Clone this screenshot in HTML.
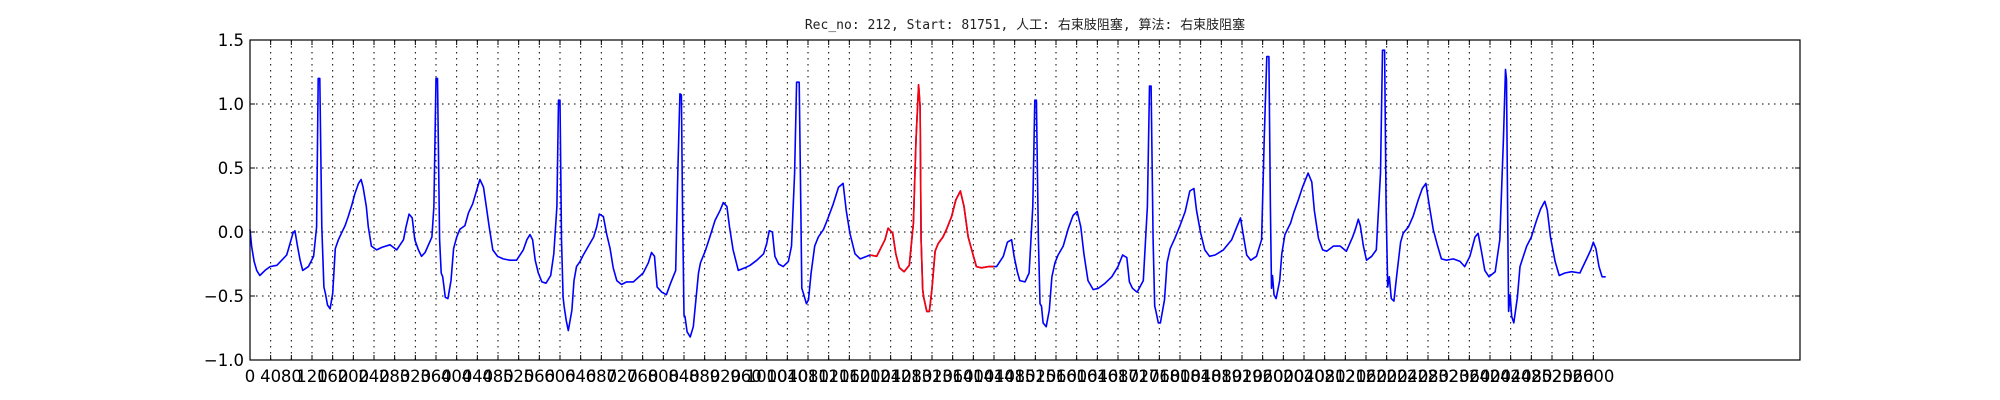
<!DOCTYPE html>
<html><head><meta charset="utf-8"><style>
html,body{margin:0;padding:0;background:#fff;}
svg{display:block;}
</style></head><body>
<svg id="chart" width="2000" height="400" xmlns="http://www.w3.org/2000/svg">
<rect width="2000" height="400" fill="#fff"/>
<text x="1025" y="29" text-anchor="middle" font-family="'DejaVu Sans Mono','Liberation Mono','Noto Sans CJK SC',monospace" font-size="13" fill="#222">Rec_no: 212, Start: 81751, 人工: 右束肢阻塞, 算法: 右束肢阻塞</text>
<g id="grid"></g><g id="series"></g><g id="ticks"></g>
<rect x="250" y="40" width="1550" height="320" fill="none" stroke="#000" stroke-width="1.2"/>
</svg>
<script>
const samples=[0,3,8,13,19,29,39,52,71,76,83,87,92,97,102,113,123,129,132,135,139,143,146,150,155,160,165,171,177,184,190,197,203,210,215,219,225,229,235,245,255,271,284,297,302,308,314,319,326,332,339,352,356,360,363,367,370,373,378,383,389,394,400,406,416,423,431,439,445,452,457,463,470,479,490,503,516,529,536,542,547,552,558,565,573,582,588,594,597,600,603,606,608,612,616,623,627,632,639,645,655,665,671,676,684,690,697,703,710,719,729,742,761,771,777,783,788,797,806,814,824,828,832,835,837,840,842,846,852,858,863,868,872,881,890,900,910,916,923,928,935,945,958,968,981,994,1000,1005,1011,1016,1023,1032,1042,1048,1054,1058,1063,1066,1068,1071,1077,1081,1086,1093,1100,1110,1119,1129,1139,1148,1154,1161,1171,1181,1194,1200,1213,1229,1235,1244,1250,1257,1266,1276,1284,1289,1294,1297,1299,1302,1304,1310,1315,1320,1326,1332,1341,1348,1358,1366,1375,1382,1390,1399,1406,1416,1429,1440,1445,1458,1466,1474,1479,1485,1490,1500,1508,1515,1519,1522,1526,1529,1532,1535,1541,1547,1552,1558,1564,1574,1584,1593,1601,1608,1614,1622,1632,1642,1655,1668,1680,1689,1697,1702,1708,1717,1729,1737,1741,1744,1748,1751,1753,1758,1762,1770,1775,1781,1790,1800,1810,1819,1827,1832,1840,1848,1857,1868,1884,1900,1910,1917,1922,1929,1937,1948,1958,1963,1968,1972,1975,1977,1979,1982,1986,1993,1997,2003,2008,2014,2020,2029,2037,2044,2048,2055,2060,2068,2076,2084,2097,2110,2122,2134,2140,2145,2149,2155,2161,2171,2180,2188,2192,2196,2199,2202,2205,2209,2214,2220,2227,2232,2242,2251,2261,2269,2276,2282,2290,2298,2306,2316,2329,2342,2351,2361,2371,2377,2383,2390,2398,2410,2419,2426,2430,2432,2434,2436,2439,2442,2446,2453,2458,2463,2471,2480,2490,2498,2506,2511,2517,2526,2534,2545,2558,2574,2587,2595,2600,2605,2611,2617,2624,2635];
const values=[0.02,-0.11,-0.23,-0.30,-0.34,-0.30,-0.27,-0.26,-0.18,-0.11,-0.01,0.01,-0.11,-0.22,-0.30,-0.27,-0.19,0.04,1.20,1.20,0.04,-0.43,-0.48,-0.57,-0.60,-0.48,-0.13,-0.06,-0.01,0.05,0.12,0.21,0.30,0.38,0.41,0.35,0.20,0.04,-0.11,-0.14,-0.12,-0.10,-0.14,-0.06,0.04,0.14,0.11,-0.06,-0.14,-0.19,-0.16,-0.04,0.20,1.20,1.20,-0.06,-0.32,-0.35,-0.51,-0.52,-0.38,-0.13,-0.04,0.02,0.05,0.15,0.22,0.33,0.41,0.35,0.21,0.04,-0.14,-0.19,-0.21,-0.22,-0.22,-0.14,-0.06,-0.02,-0.06,-0.22,-0.32,-0.39,-0.40,-0.34,-0.17,0.20,1.03,1.03,-0.06,-0.51,-0.58,-0.69,-0.77,-0.61,-0.38,-0.27,-0.23,-0.18,-0.11,-0.04,0.04,0.14,0.12,-0.01,-0.13,-0.28,-0.38,-0.41,-0.39,-0.39,-0.32,-0.24,-0.16,-0.19,-0.43,-0.47,-0.49,-0.40,-0.30,0.46,1.08,1.07,0.20,-0.65,-0.66,-0.78,-0.82,-0.74,-0.53,-0.32,-0.24,-0.15,-0.04,0.09,0.17,0.23,0.20,0.04,-0.14,-0.30,-0.28,-0.26,-0.22,-0.17,-0.09,0.01,0.00,-0.19,-0.25,-0.27,-0.23,-0.11,0.46,1.17,1.17,0.20,-0.44,-0.48,-0.56,-0.53,-0.32,-0.11,-0.04,0.02,0.11,0.22,0.35,0.38,0.17,-0.01,-0.17,-0.21,-0.19,-0.18,-0.19,-0.06,0.03,-0.01,-0.17,-0.28,-0.31,-0.26,0.07,0.72,1.15,0.98,-0.06,-0.45,-0.51,-0.62,-0.62,-0.44,-0.15,-0.09,-0.04,0.02,0.12,0.25,0.32,0.20,-0.04,-0.17,-0.27,-0.28,-0.27,-0.27,-0.27,-0.19,-0.08,-0.06,-0.19,-0.31,-0.38,-0.39,-0.32,0.20,1.03,1.03,-0.06,-0.56,-0.58,-0.71,-0.74,-0.61,-0.35,-0.24,-0.18,-0.11,0.03,0.13,0.16,0.04,-0.17,-0.38,-0.45,-0.44,-0.40,-0.35,-0.27,-0.18,-0.20,-0.39,-0.44,-0.47,-0.38,0.20,1.14,1.14,-0.06,-0.58,-0.61,-0.71,-0.71,-0.53,-0.24,-0.13,-0.05,0.05,0.16,0.32,0.34,0.17,-0.01,-0.14,-0.19,-0.18,-0.14,-0.06,0.04,0.11,-0.01,-0.18,-0.22,-0.19,-0.06,0.72,1.37,1.37,0.20,-0.44,-0.34,-0.49,-0.52,-0.38,-0.17,-0.02,0.02,0.07,0.15,0.25,0.35,0.42,0.46,0.39,0.17,-0.05,-0.14,-0.15,-0.11,-0.11,-0.15,-0.04,0.03,0.10,0.05,-0.11,-0.22,-0.19,-0.14,0.46,1.42,1.42,0.20,-0.43,-0.35,-0.52,-0.54,-0.32,-0.08,-0.01,0.04,0.12,0.25,0.34,0.38,0.22,0.02,-0.10,-0.21,-0.22,-0.21,-0.23,-0.27,-0.19,-0.04,-0.01,-0.14,-0.30,-0.35,-0.31,-0.06,0.72,1.27,1.19,0.20,-0.62,-0.49,-0.66,-0.71,-0.51,-0.27,-0.21,-0.11,-0.04,0.09,0.18,0.24,0.17,-0.04,-0.23,-0.34,-0.32,-0.31,-0.32,-0.21,-0.14,-0.08,-0.13,-0.27,-0.35,-0.35];
const highlightRange=[1200,1440];
const yTicks=[-1.0,-0.5,0.0,0.5,1.0,1.5];
const xTicks=[];for(let t=0;t<=2600;t+=40)xTicks.push(t);

const X0=250,X1=1800,Y0=40,Y1=360,XMAX=3000,YMIN=-1,YMAX=1.5;
const sx=s=>X0+s/XMAX*(X1-X0);
const sy=v=>Y0+(YMAX-v)/(YMAX-YMIN)*(Y1-Y0);
const NS='http://www.w3.org/2000/svg';
function mk(tag,attrs,parent){const e=document.createElementNS(NS,tag);for(const k in attrs)e.setAttribute(k,attrs[k]);parent.appendChild(e);return e;}
const grid=document.getElementById('grid'),ticks=document.getElementById('ticks'),series=document.getElementById('series');
const fmt=v=>(v<0?'\u2212':'')+Math.abs(v).toFixed(1);
yTicks.forEach(v=>{const y=sy(v);
 if(v>YMIN&&v<YMAX){const g=mk('line',{x1:X0,x2:X1,y1:y,y2:y,stroke:'#000','stroke-width':1,'stroke-dasharray':'1.5,4.5'},grid);
 
 }
 mk('line',{x1:X0,x2:X0+5,y1:y,y2:y,stroke:'#000','stroke-width':1},ticks);
 mk('line',{x1:X1-5,x2:X1,y1:y,y2:y,stroke:'#000','stroke-width':1},ticks);
 const t=mk('text',{x:X0-6,y:y+6,'text-anchor':'end','font-family':"'DejaVu Sans','Liberation Sans',sans-serif",'font-size':16.5,fill:'#000'},ticks);
 t.textContent=fmt(v);
 
 
});
xTicks.forEach(s=>{const x=sx(s);
 if(s>0){const g=mk('line',{x1:x,x2:x,y1:Y0,y2:Y1,stroke:'#000','stroke-width':1,'stroke-dasharray':'1.5,4.5'},grid);
 
 }
 mk('line',{x1:x,x2:x,y1:Y1-5,y2:Y1,stroke:'#000','stroke-width':1},ticks);
 mk('line',{x1:x,x2:x,y1:Y0,y2:Y0+5,stroke:'#000','stroke-width':1},ticks);
 const t=mk('text',{x:x,y:Y1+22,'text-anchor':'middle','font-family':"'DejaVu Sans','Liberation Sans',sans-serif",'font-size':16.5,fill:'#000'},ticks);
 t.textContent=String(s);
 
 
});
const allPts=samples.map((s,i)=>sx(s).toFixed(1)+','+sy(values[i]).toFixed(1)).join(' ');
const blue=mk('polyline',{points:allPts,fill:'none',stroke:'#0000ff','stroke-width':1.6,'stroke-linejoin':'round'},series);


const redPts=samples.map((s,i)=>[s,values[i]]).filter(p=>p[0]>=highlightRange[0]&&p[0]<=highlightRange[1]).map(p=>sx(p[0]).toFixed(1)+','+sy(p[1]).toFixed(1)).join(' ');
const red=mk('polyline',{points:redPts,fill:'none',stroke:'#ff0000','stroke-width':1.6,'stroke-linejoin':'round'},series);


</script>
</body></html>
